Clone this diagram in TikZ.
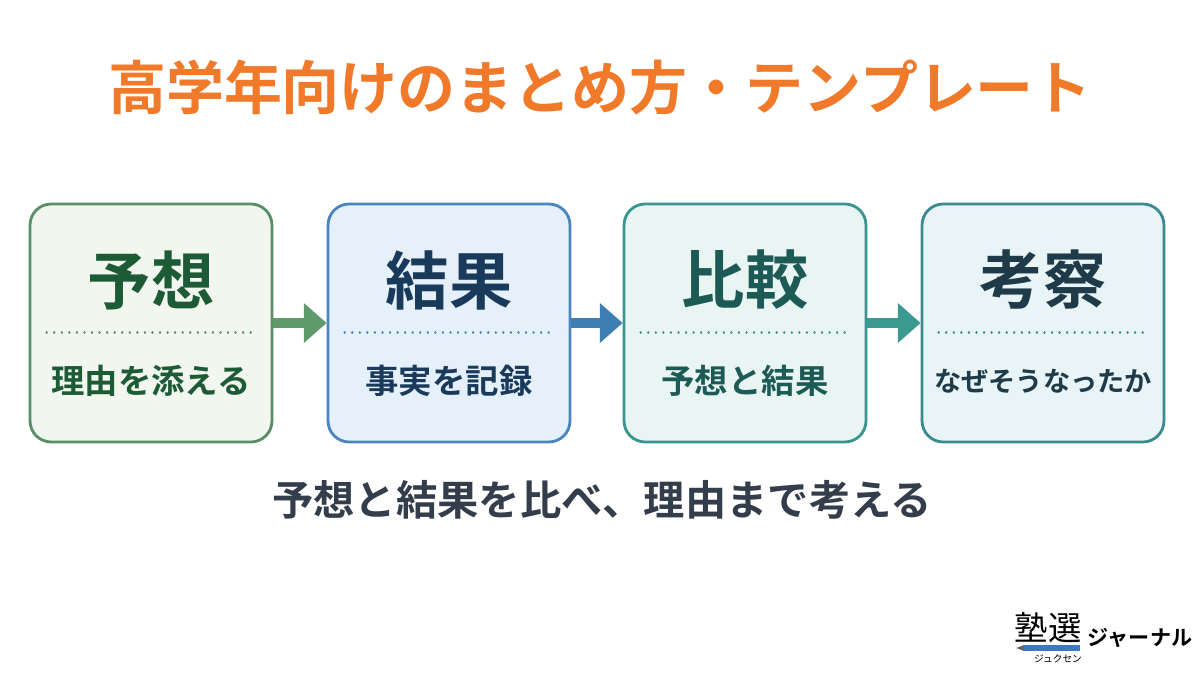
\documentclass[tikz,border=0pt]{standalone}
\usepackage{fontspec}
\setmainfont{Noto Sans CJK JP}
\newfontfamily\jpbold{Noto Sans CJK JP Bold}
\usetikzlibrary{arrows.meta}
\definecolor{titleorange}{HTML}{F07A2A}
\definecolor{bottomgray}{HTML}{333D4B}
\definecolor{grnline}{HTML}{5A8F65}\definecolor{grnfill}{HTML}{F1F6EE}\definecolor{grntext}{HTML}{1D5A36}
\definecolor{bluline}{HTML}{4A85C0}\definecolor{blufill}{HTML}{E6F0FB}\definecolor{blutext}{HTML}{1A3A5C}
\definecolor{tealline}{HTML}{3A9590}\definecolor{tealfill}{HTML}{E8F5F2}\definecolor{tealtext}{HTML}{1D5A55}
\definecolor{cyanline}{HTML}{3A8A90}\definecolor{cyanfill}{HTML}{E8F4F5}\definecolor{cyantext}{HTML}{1F3A48}
\definecolor{grnarrow}{HTML}{5E9A6A}\definecolor{bluarrow}{HTML}{3F7EB0}\definecolor{tealarrow}{HTML}{3A9A90}
\definecolor{pencil}{HTML}{3B78C0}
\tikzset{
  step/.style={draw=#1line,fill=#1fill,line width=1.6pt,rounded corners=12pt,minimum width=4.84cm,minimum height=4.76cm},
  head/.style={font=\jpbold\fontsize{36}{36}\selectfont},
  sub/.style={font=\jpbold\fontsize{#1}{#1}\selectfont},
  flow/.style={line width=6.2pt,-{Triangle[width=22pt,length=13pt]}}
}
\begin{document}
\begin{tikzpicture}[x=0.02cm,y=-0.02cm]
  \useasboundingbox[fill=white] (0,0) rectangle (1200,675);
  \node[font=\jpbold\fontsize{33}{33}\selectfont,text=titleorange] (title) at (600,88) {高学年向けのまとめ方・テンプレート};

  \foreach \n/\x/\c/\h/\s/\f in {s1/151/grn/予想/理由を添える/19,s2/449/blu/結果/事実を記録/19,
    s3/745/teal/比較/予想と結果/19,s4/1043/cyan/考察/なぜそうなったか/15.5}{
    \node[step=\c] (\n) at (\x,323) {};
    \node[head,text=\c text] (\n h) at (\x,280) {\h};
    \node[sub=\f,text=\c text] (\n s) at (\x,381) {\s};
    \draw[\c line,line width=1.3pt,dash pattern=on 0.1pt off 4.2pt,line cap=round]
      ([xshift=0.36cm,yshift=-2.6cm]\n.north west) -- ([xshift=-0.36cm,yshift=-2.6cm]\n.north east);
  }

  \draw[flow,grnarrow] (s1.east) -- (s2.west);
  \draw[flow,bluarrow] (s2.east) -- (s3.west);
  \draw[flow,tealarrow] (s3.east) -- (s4.west);

  \node[font=\jpbold\fontsize{23.5}{23.5}\selectfont,text=bottomgray] (summary) at (602,500) {予想と結果を比べ、理由まで考える};

  % logo
  \node[font=\fontsize{19}{19}\selectfont] (logo) at (1048,628) {塾選};
  \fill[pencil] (1024,645) rectangle (1080,651);
  \fill[black!60] (1016,648) -- (1024,645) -- (1024,651) -- cycle;
  \node[font=\fontsize{5.5}{5.5}\selectfont] (kana) at (1058,659) {ジュクセン};
  \node[font=\jpbold\fontsize{12}{12}\selectfont] (journal) at (1140,638) {ジャーナル};
\end{tikzpicture}
\end{document}
